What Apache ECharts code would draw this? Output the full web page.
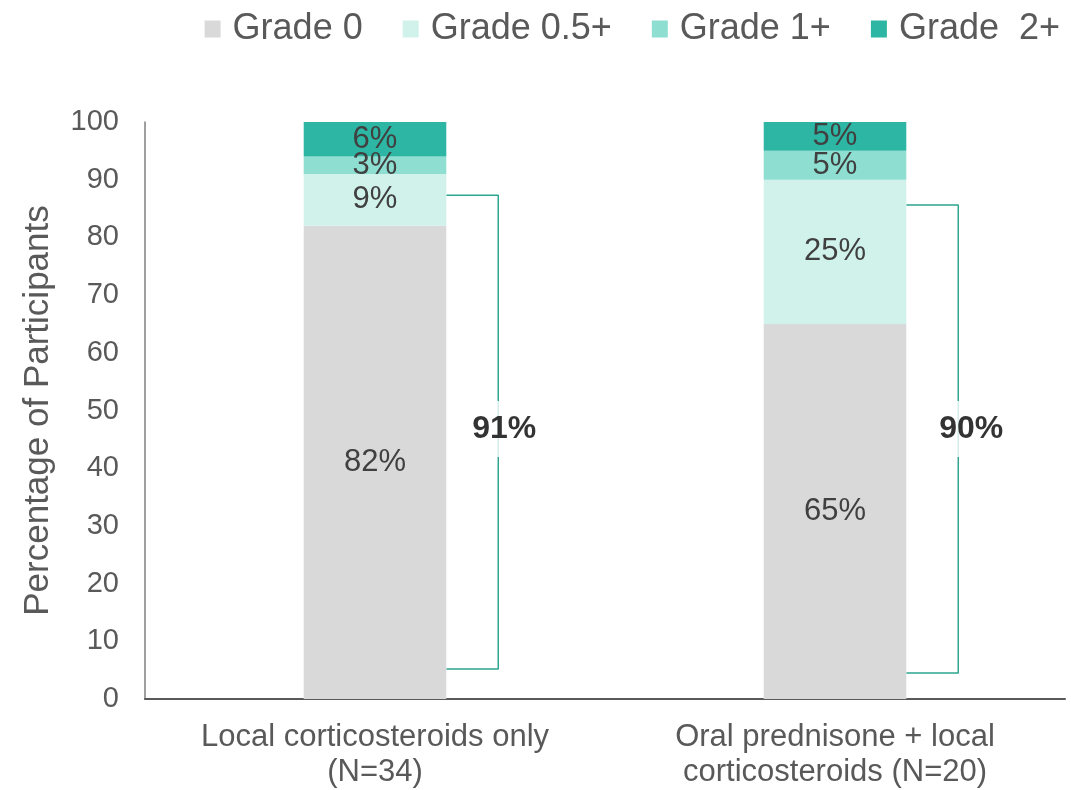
<!DOCTYPE html>
<html><head><meta charset="utf-8">
<script src="https://cdn.jsdelivr.net/npm/echarts@6/dist/echarts.min.js"></script>
<style>html,body{margin:0;padding:0;background:#fff}#c{width:1071px;height:790px}</style>
</head><body><div id="c"></div>
<script>
const categories = ['Local corticosteroids only\n(N=34)', 'Oral prednisone + local\ncorticosteroids (N=20)'];
const seriesNames = ['Grade 0', 'Grade 0.5+', 'Grade 1+', 'Grade  2+'];
const grade0 = [82, 65];
const grade05 = [9, 25];
const grade1 = [3, 5];
const grade2 = [6, 5];
const bracketTop = [87.3, 85.6];
const bracketBottom = [5.2, 4.5];
const bracketLabels = ['91%', '90%'];
const yTicks = [0, 10, 20, 30, 40, 50, 60, 70, 80, 90, 100];
const colors = ['#D9D9D9', '#D1F2EB', '#8EDFD2', '#2DB6A3'];

const chart = echarts.init(document.getElementById('c'));
const font = 'Liberation Sans, Arial, sans-serif';
const barWidthFrac = 0.31;
const barHalf = barWidthFrac / 2;
const bracketOut = 0.113;
const labelShift = [0.013, 0.028];

function barSeries(name, data, i) {
  return {
    name, type: 'bar', stack: 'a', data, barWidth: (barWidthFrac * 100) + '%',
    itemStyle: { color: colors[i] },
    label: { show: true, position: 'inside', formatter: p => p.value + '%', color: '#404040', fontSize: 31, fontFamily: font }
  };
}

const brackets = categories.map((c, i) => {
  const x0 = i + 0.5 + barHalf;
  const x1 = x0 + bracketOut;
  return {
    type: 'line', xAxisIndex: 1, yAxisIndex: 0, symbol: 'none', silent: true, z: 1,
    lineStyle: { color: '#2DA590', width: 1.5 },
    data: [[x0, bracketTop[i]], [x1, bracketTop[i]], [x1, bracketBottom[i]], [x0, bracketBottom[i]]]
  };
});
const bracketText = {
  type: 'scatter', xAxisIndex: 1, yAxisIndex: 0, symbolSize: 1, silent: true, z: 5,
  itemStyle: { color: 'rgba(0,0,0,0)' },
  data: categories.map((c, i) => ({ value: [i + 0.5 + barHalf + bracketOut + labelShift[i], 46.8], label: { formatter: bracketLabels[i] } })),
  label: { show: true, position: 'inside', color: '#000000', textBorderWidth: 0, fontWeight: 'bold', fontSize: 32, fontFamily: font,
    backgroundColor: '#fff', padding: [12, 2] }
};

chart.setOption({
  animation: false,
  legend: {
    data: seriesNames, top: 6, right: 6, itemWidth: 16, itemHeight: 17, itemGap: 40, icon: 'rect',
    textStyle: { fontSize: 36, color: '#595959', fontFamily: font, padding: [0, 0, 0, 7] }
  },
  grid: { left: 145, right: 6, top: 122, bottom: 91, containLabel: false },
  xAxis: [
    { type: 'category', data: categories,
      axisLine: { lineStyle: { color: '#595959', width: 2 } }, axisTick: { show: false },
      axisLabel: { fontSize: 31, color: '#595959', fontFamily: font, lineHeight: 35, margin: 21 } },
    { type: 'value', min: 0, max: 2, show: false }
  ],
  yAxis: {
    type: 'value', min: 0, max: 100, interval: 10,
    name: 'Percentage of Participants', nameLocation: 'middle', nameGap: 89,
    nameTextStyle: { fontSize: 35, color: '#595959', fontFamily: font },
    axisLine: { show: true, lineStyle: { color: '#808080', width: 1.5 } }, axisTick: { show: false },
    splitLine: { show: false },
    axisLabel: { fontSize: 29, color: '#595959', fontFamily: font, margin: 26,
      formatter: v => yTicks.includes(v) ? String(v) : '' }
  },
  series: [
    barSeries(seriesNames[0], grade0, 0),
    barSeries(seriesNames[1], grade05, 1),
    barSeries(seriesNames[2], grade1, 2),
    barSeries(seriesNames[3], grade2, 3),
    ...brackets, bracketText
  ]
});
</script></body></html>
